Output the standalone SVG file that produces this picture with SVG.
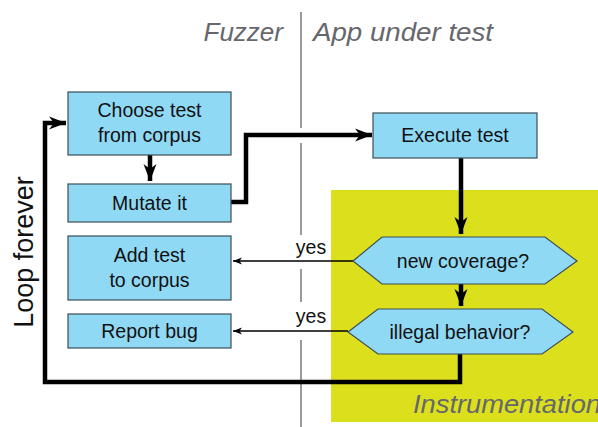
<svg xmlns="http://www.w3.org/2000/svg" width="598" height="427" viewBox="0 0 598 427">
<style>
.box{fill:#90d9f5;stroke:#3d4d58;stroke-width:1.2}
.t{font-family:"Liberation Sans",Arial,sans-serif;font-size:19.5px;fill:#111;text-anchor:middle}
.h{font-family:"Liberation Sans",Arial,sans-serif;font-size:26px;font-style:italic;fill:#66676d}
.thick{fill:none;stroke:#000;stroke-width:4.5;stroke-linejoin:miter}
.thin{fill:none;stroke:#000;stroke-width:1.6}
.sep{stroke:#9a9a9a;stroke-width:2}
</style>
<defs>
<marker id="big" markerUnits="userSpaceOnUse" viewBox="-18 -8 20 16" refX="0" refY="0" markerWidth="20" markerHeight="16" orient="auto">
<path d="M0,0 L-17,-6.5 L-12,0 L-17,6.5 Z" fill="#000"/>
</marker>
<marker id="small" markerUnits="userSpaceOnUse" viewBox="-10 -5 12 10" refX="0" refY="0" markerWidth="12" markerHeight="10" orient="auto">
<path d="M0,0 L-9,-3.5 L-6.5,0 L-9,3.5 Z" fill="#000"/>
</marker>
</defs>
<rect x="0" y="0" width="598" height="427" fill="#fff"/>
<rect id="instrumentation" x="331" y="190" width="267" height="232" fill="#dce01c"/>
<text class="h" x="413" y="413" textLength="188" lengthAdjust="spacingAndGlyphs">Instrumentation</text>
<g id="separator">
<line class="sep" x1="301" y1="12" x2="301" y2="128"/>
<line class="sep" x1="301" y1="143" x2="301" y2="235"/>
<line class="sep" x1="301" y1="269" x2="301" y2="302"/>
<line class="sep" x1="301" y1="340" x2="301" y2="427"/>
</g>
<text class="h" x="283" y="41" text-anchor="end">Fuzzer</text>
<text class="h" x="313" y="41" textLength="180" lengthAdjust="spacingAndGlyphs">App under test</text>
<text class="t" transform="translate(33,252) rotate(-90)" style="font-size:27px">Loop forever</text>
<g id="connectors">
<path class="thick" d="M460,354 L460,382 L45,382 L45,123 L66,123" marker-end="url(#big)"/>
<path class="thick" d="M150,155 L150,181" marker-end="url(#big)"/>
<path class="thick" d="M231,202 L246,202 L246,135 L372,135" marker-end="url(#big)"/>
<path class="thick" d="M461,158 L461,234" marker-end="url(#big)"/>
<path class="thick" d="M461,284 L461,306" marker-end="url(#big)"/>
<path class="thin" d="M353,261 L233,261" marker-end="url(#small)"/>
<path class="thin" d="M348,331 L233,331" marker-end="url(#small)"/>
<text class="t" x="311" y="254">yes</text>
<text class="t" x="311" y="323">yes</text>
</g>
<g id="choose">
<rect class="box" x="68" y="92" width="163" height="63"/>
<text class="t" x="149.5" y="117">Choose test</text>
<text class="t" x="149.5" y="142">from corpus</text>
</g>
<g id="mutate">
<rect class="box" x="68" y="184" width="163" height="38"/>
<text class="t" x="149.5" y="210">Mutate it</text>
</g>
<g id="add">
<rect class="box" x="68" y="236" width="163" height="64"/>
<text class="t" x="149.5" y="262">Add test</text>
<text class="t" x="149.5" y="287">to corpus</text>
</g>
<g id="report">
<rect class="box" x="68" y="314" width="163" height="34"/>
<text class="t" x="149.5" y="338">Report bug</text>
</g>
<g id="execute">
<rect class="box" x="373" y="113" width="164" height="45"/>
<text class="t" x="455" y="142">Execute test</text>
</g>
<g id="newcov">
<polygon class="box" points="353,261 382,237 545,237 577,261 545,284 382,284"/>
<text class="t" x="463" y="268">new coverage?</text>
</g>
<g id="illegal">
<polygon class="box" points="348,332 378,309 542,309 573,332 542,354 378,354"/>
<text class="t" x="460" y="339">illegal behavior?</text>
</g>
</svg>
